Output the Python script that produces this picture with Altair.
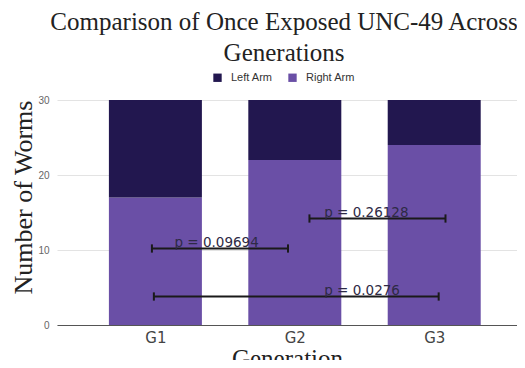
import altair as alt
import pandas as pd

generations = ["G1", "G2", "G3"]
gen_pos = [1, 2, 3]
right_arm = [17, 22, 24]
left_arm = [13, 8, 6]

p_labels = ["p = 0.09694", "p = 0.26128", "p = 0.0276"]
p_start = [0.975, 2.105, 0.989]
p_end = [1.951, 3.081, 3.032]
p_level = [10.2, 14.2, 3.8]
p_text_x = [1.137, 2.211, 2.211]

rows = []
for g, x, r, l in zip(generations, gen_pos, right_arm, left_arm):
    rows.append({"gen": g, "x": x, "arm": "Right Arm", "count": r, "ord": 0})
    rows.append({"gen": g, "x": x, "arm": "Left Arm", "count": l, "ord": 1})
bars_df = pd.DataFrame(rows)

br_df = pd.DataFrame({"label": p_labels, "x0": p_start, "x1": p_end,
                      "y": p_level, "tx": p_text_x})
br_df["ylo"] = br_df["y"] - 0.55
br_df["yhi"] = br_df["y"] + 0.55

xscale = alt.Scale(domain=[0.33, 3.558], nice=False, zero=False)
yscale = alt.Scale(domain=[0, 30], nice=False)

bars = alt.Chart(bars_df).mark_bar(size=93).encode(
    x=alt.X("x:Q", scale=xscale,
            axis=alt.Axis(values=gen_pos, labelExpr="'G' + datum.value",
                          title="Generation", grid=False, ticks=False,
                          domainColor="#555", domainWidth=1.2,
                          labelFont="DejaVu Sans", labelFontSize=15, labelColor="#444",
                          labelPadding=5,
                          titleFont="Liberation Serif", titleFontSize=25,
                          titleFontWeight="normal", titleColor="#222", titlePadding=1)),
    y=alt.Y("count:Q", stack="zero", scale=yscale,
            axis=alt.Axis(values=[0, 10, 20, 30], title="Number of Worms",
                          ticks=False, domain=False, gridColor="#e3e3e3",
                          labelFont="Liberation Sans", labelFontSize=10, labelColor="#666",
                          labelPadding=8, titleY=97,
                          titleFont="Liberation Serif", titleFontSize=26,
                          titleFontWeight="normal", titleColor="#222", titlePadding=1)),
    color=alt.Color("arm:N",
                    scale=alt.Scale(domain=["Left Arm", "Right Arm"],
                                    range=["#22174f", "#6a4fa6"]),
                    legend=alt.Legend(title=None, orient="none", legendX=155, legendY=-28,
                                      direction="horizontal", symbolType="square",
                                      symbolSize=70, symbolStrokeWidth=0,
                                      labelFont="Liberation Sans", labelFontSize=11,
                                      labelColor="#333", columnPadding=14, labelOffset=8)),
    order=alt.Order("ord:Q"),
)

rules = alt.Chart(br_df).mark_rule(color="#1a1a1a", strokeWidth=2).encode(
    x=alt.X("x0:Q", scale=xscale), x2="x1:Q", y=alt.Y("y:Q", scale=yscale))
lticks = alt.Chart(br_df).mark_rule(color="#1a1a1a", strokeWidth=2).encode(
    x=alt.X("x0:Q", scale=xscale), y=alt.Y("ylo:Q", scale=yscale), y2="yhi:Q")
rticks = alt.Chart(br_df).mark_rule(color="#1a1a1a", strokeWidth=2).encode(
    x=alt.X("x1:Q", scale=xscale), y=alt.Y("ylo:Q", scale=yscale), y2="yhi:Q")
texts = alt.Chart(br_df).mark_text(align="left", baseline="alphabetic", dy=-2,
                                   font="DejaVu Sans", fontSize=13.5, color="#2e2a45").encode(
    x=alt.X("tx:Q", scale=xscale), y=alt.Y("y:Q", scale=yscale), text="label:N")

chart = alt.layer(bars, rules, lticks, rticks, texts).properties(
    width=460, height=225,
    autosize=alt.AutoSizeParams(type="none"),
    padding={"left": 49, "top": 92, "right": 0, "bottom": 35},
    title=alt.Title(["Comparison of Once Exposed UNC-49 Across", "Generations"],
                    font="Liberation Serif", fontSize=25, fontWeight="normal",
                    color="#222", anchor="middle", offset=6, dx=-3, lineHeight=31),
).configure_view(stroke=None)

chart.save("out.html", embed_options={"renderer": "svg", "actions": False})
